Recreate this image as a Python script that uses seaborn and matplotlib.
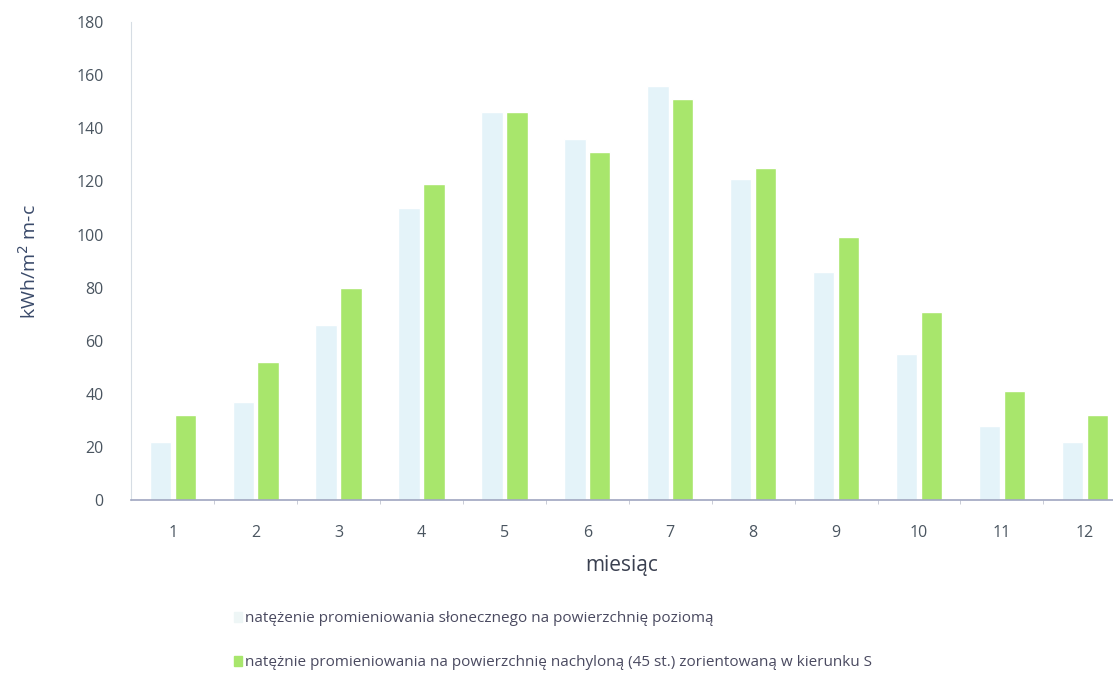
import numpy as np
import pandas as pd
import matplotlib
matplotlib.use('Agg')
import matplotlib.pyplot as plt
import seaborn as sns

months = [1, 2, 3, 4, 5, 6, 7, 8, 9, 10, 11, 12]
poziom = [22, 37, 66, 110, 146, 136, 156, 121, 86, 55, 28, 22]
nachylona = [32, 52, 80, 119, 146, 131, 151, 125, 99, 71, 41, 32]
labels = ['natężenie promieniowania słonecznego na powierzchnię poziomą',
          'natężnie promieniowania na powierzchnię nachyloną (45 st.) zorientowaną w kierunku S']

df = pd.DataFrame({
    'miesiac': months * 2,
    'wartosc': poziom + nachylona,
    'seria': [labels[0]] * 12 + [labels[1]] * 12,
})

sns.set_style('white')
plt.rcParams['font.family'] = ['Open Sans', 'DejaVu Sans']

fig = plt.figure(figsize=(11.13, 6.73), dpi=100)
ax = fig.add_axes([0.118, 0.257, 0.882, 0.71])

sns.barplot(data=df, x='miesiac', y='wartosc', hue='seria',
            palette=['#e4f3f9', '#a8e66c'], width=0.6, gap=0.14,
            saturation=1, ax=ax, legend=False)

ax.set_ylim(0, 180)
ax.set_yticks(range(0, 181, 20))
ax.set_xlim(-0.5, 11.34)
ax.set_xticks(np.arange(0.5, 11.5, 1), minor=True)

for s in ['top', 'right']:
    ax.spines[s].set_visible(False)
ax.spines['left'].set_color('#d6dde4')
ax.spines['bottom'].set_color('#9fa6c0')
ax.spines['bottom'].set_linewidth(1.2)

ax.tick_params(axis='both', which='major', length=0, labelsize=11.5, labelcolor='#4a5560')
ax.tick_params(axis='y', which='major', pad=20)
ax.tick_params(axis='x', which='major', pad=18)
ax.tick_params(axis='x', which='minor', length=3, color='#c0c4d0', bottom=True)

ax.set_xlabel('miesiąc', fontsize=15, color='#3a4050', labelpad=10)
ax.set_ylabel('kWh/m$^2$ m-c', fontsize=14, color='#3a4a6a', labelpad=26)

handles = [plt.Rectangle((0, 0), 1, 1, color='#eef6f6'),
           plt.Rectangle((0, 0), 1, 1, color='#a8e66c')]
fig.legend(handles, labels, loc='upper left', bbox_to_anchor=(0.198, 0.112),
           frameon=False, fontsize=11, handlelength=0.5, handleheight=0.7,
           handletextpad=0.2, labelspacing=1.9, labelcolor='#4a4a60')

fig.savefig('out.png', dpi=100)
